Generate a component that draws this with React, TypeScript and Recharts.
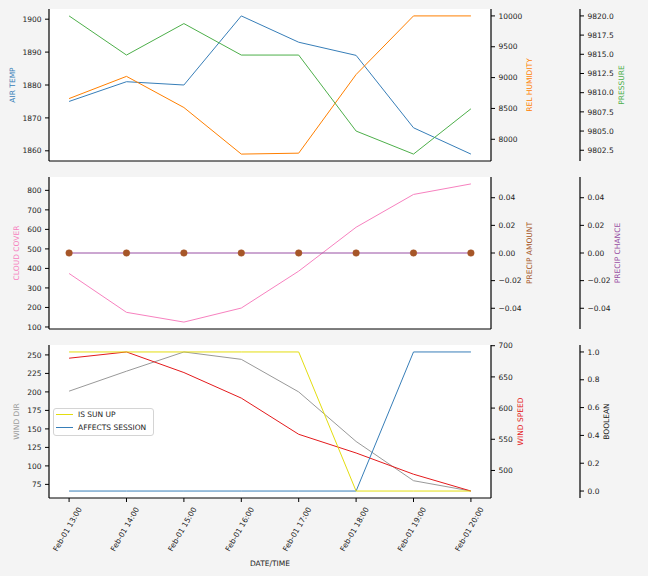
import React from "react";
import { ComposedChart, Line, XAxis, YAxis, CartesianGrid, Legend } from "recharts";

const categories = [
  "Feb-01 13:00", "Feb-01 14:00", "Feb-01 15:00", "Feb-01 16:00",
  "Feb-01 17:00", "Feb-01 18:00", "Feb-01 19:00", "Feb-01 20:00",
];
const airTemp = [1875, 1881, 1880, 1901, 1893, 1889, 1867, 1859];
const relHumidity = [8660, 9020, 8515, 7760, 7775, 9050, 10000, 10000];
const pressure = [9820.0, 9814.9, 9819.0, 9814.9, 9814.9, 9805.0, 9802.0, 9807.9];
const cloudCover = [374, 175, 125, 197, 386, 611, 779, 833];
const precipAmount = [0, 0, 0, 0, 0, 0, 0, 0];
const precipChance = [0, 0, 0, 0, 0, 0, 0, 0];
const windDir = [201, 228, 254, 244, 200, 133, 80, 66];
const windSpeed = [680, 690, 657, 616, 558, 528, 494, 467];
const isSunUp = [1, 1, 1, 1, 1, 0, 0, 0];
const affectsSession = [0, 0, 0, 0, 0, 0, 1, 1];

const airTempTicks = [1860, 1870, 1880, 1890, 1900];
const relHumidityTicks = [8000, 8500, 9000, 9500, 10000];
const pressureTicks = [9802.5, 9805, 9807.5, 9810, 9812.5, 9815, 9817.5, 9820];
const cloudTicks = [100, 200, 300, 400, 500, 600, 700, 800];
const precipTicks = [-0.04, -0.02, 0, 0.02, 0.04];
const windDirTicks = [75, 100, 125, 150, 175, 200, 225, 250];
const windSpeedTicks = [500, 550, 600, 650, 700];
const boolTicks = [0, 0.2, 0.4, 0.6, 0.8, 1.0];

const rows = categories.map((c, i) => ({
  i,
  airTemp: airTemp[i],
  relHumidity: relHumidity[i],
  pressure: pressure[i],
  cloudCover: cloudCover[i],
  precipAmount: precipAmount[i],
  precipChance: precipChance[i],
  windDir: windDir[i],
  windSpeed: windSpeed[i],
  isSunUp: isSunUp[i],
  affectsSession: affectsSession[i],
}));

const pad = (...arrs: number[][]): [number, number] => {
  const all = arrs.flat();
  const mn = Math.min(...all);
  const mx = Math.max(...all);
  if (mx === mn) return [mn - 0.055, mx + 0.055];
  const m = (mx - mn) * 0.05;
  return [mn - m, mx + m];
};

const FONT = '"DejaVu Sans", "Liberation Sans", sans-serif';
const FS = 7.5;
const TXT = "#222";
const C = {
  blue: "#377eb8",
  orange: "#ff7f00",
  green: "#4daf4a",
  pink: "#f781bf",
  brown: "#a65628",
  purple: "#984ea3",
  gray: "#999999",
  red: "#e41a1c",
  yellow: "#e3dd10",
};

const xDomain: [number, number] = [-0.35, 7.35];
const xTicks = categories.map((_, i) => i);
const tickStyle = { fontSize: FS, fill: TXT };
const minus = (s: string) => s.replace("-", "\u2212");

const vLabel = (text: string, color: string, cx: number) => (props: any) => {
  const vb = props.viewBox || {};
  const cy = vb.y + vb.height / 2;
  return (
    <text
      x={cx}
      y={cy}
      transform={`rotate(-90 ${cx} ${cy})`}
      textAnchor="middle"
      dominantBaseline="central"
      fill={color}
      fontSize={FS}
      fontFamily={FONT}
    >
      {text}
    </text>
  );
};

const RotTick = (props: any) => {
  const { x, y, payload } = props;
  return (
    <text
      transform={`translate(${x + 13},${y + 5}) rotate(-60)`}
      textAnchor="end"
      fontSize={FS}
      fill={TXT}
      fontFamily={FONT}
    >
      {categories[payload.value]}
    </text>
  );
};

const frameAxes = (bottomTicks: any, bottomHeight: number, xLabel?: any) => [
  <CartesianGrid key="g" fill="#ffffff" fillOpacity={1} horizontal={false} vertical={false} />,
  <XAxis
    key="xb"
    xAxisId={0}
    dataKey="i"
    type="number"
    domain={xDomain}
    ticks={xTicks}
    interval={0}
    allowDataOverflow
    height={bottomHeight}
    tick={bottomTicks}
    tickSize={4}
    tickMargin={2}
    stroke="#000"
    tickLine={{ stroke: "#000" }}
    axisLine={{ stroke: "#000", strokeWidth: 1.2 }}
    label={xLabel}
  />,
  <XAxis
    key="xt"
    xAxisId="top"
    orientation="top"
    dataKey="i"
    type="number"
    domain={xDomain}
    allowDataOverflow
    height={0}
    tick={false}
    tickLine={false}
    axisLine={{ stroke: "#000", strokeWidth: 1.2 }}
  />,
];

const yAx = (
  id: string,
  orientation: "left" | "right",
  width: number,
  domain: [number, number],
  ticks: number[],
  fmt: (v: number) => string,
  label: any,
  axisStrokeWidth = 1.2
) => (
  <YAxis
    key={id}
    yAxisId={id}
    orientation={orientation}
    width={width}
    type="number"
    domain={domain}
    ticks={ticks}
    interval={0}
    allowDataOverflow
    tick={tickStyle}
    tickFormatter={fmt}
    tickSize={4}
    tickMargin={3.5}
    tickLine={{ stroke: "#000" }}
    axisLine={{ stroke: "#000", strokeWidth: axisStrokeWidth }}
    label={label}
  />
);

const MARGIN = { top: 9, right: 8, bottom: 0, left: 0 };

const LegendBox = () => (
  <div
    style={{
      width: 101,
      height: 28,
      boxSizing: "border-box",
      border: "1px solid #d4d4d4",
      borderRadius: 3,
      background: "rgba(255,255,255,0.85)",
      fontFamily: FONT,
      fontSize: FS,
      color: TXT,
      paddingLeft: 2,
    }}
  >
    {[
      { name: "IS SUN UP", color: C.yellow },
      { name: "AFFECTS SESSION", color: C.blue },
    ].map((it, k) => (
      <div
        key={k}
        style={{
          display: "flex",
          alignItems: "center",
          height: 13.4,
          marginTop: k === 0 ? -1.5 : 0,
          whiteSpace: "nowrap",
        }}
      >
        <span
          style={{
            display: "inline-block",
            width: 17,
            height: 0,
            borderTop: `1px solid ${it.color}`,
            marginRight: 5,
          }}
        />
        <span>{it.name}</span>
      </div>
    ))}
  </div>
);

export default function App() {
  return (
    <div
      style={{
        position: "absolute",
        left: 0,
        top: 0,
        width: 648,
        height: 576,
        background: "#f4f4f4",
        fontFamily: FONT,
        overflow: "hidden",
      }}
    >
      {/* Panel 1 */}
      <div style={{ position: "absolute", left: 0, top: 0 }}>
        <ComposedChart width={648} height={170} data={rows} margin={MARGIN}>
          {frameAxes(false, 9)}
          {yAx("l", "left", 49, pad(airTemp), airTempTicks, (v) => String(v), vLabel("AIR TEMP", C.blue, 12.5))}
          {yAx("r1", "right", 89, pad(relHumidity), relHumidityTicks, (v) => String(v), vLabel("REL HUMIDITY", C.orange, 529.5))}
          {yAx("r2", "right", 60, pad(pressure), pressureTicks, (v) => v.toFixed(1), vLabel("PRESSURE", C.green, 621.5))}
          <Line yAxisId="l" dataKey="airTemp" stroke={C.blue} strokeWidth={1} dot={false} activeDot={false} isAnimationActive={false} />
          <Line yAxisId="r1" dataKey="relHumidity" stroke={C.orange} strokeWidth={1} dot={false} activeDot={false} isAnimationActive={false} />
          <Line yAxisId="r2" dataKey="pressure" stroke={C.green} strokeWidth={1} dot={false} activeDot={false} isAnimationActive={false} />
        </ComposedChart>
      </div>

      {/* Panel 2 */}
      <div style={{ position: "absolute", left: 0, top: 168 }}>
        <ComposedChart width={648} height={170} data={rows} margin={MARGIN}>
          {frameAxes(false, 9)}
          {yAx("l", "left", 49, pad(cloudCover), cloudTicks, (v) => String(v), vLabel("CLOUD COVER", C.pink, 16.7))}
          {yAx("r1", "right", 89, pad(precipAmount), precipTicks, (v) => minus(v.toFixed(2)), vLabel("PRECIP AMOUNT", C.brown, 529))}
          {yAx("r2", "right", 60, pad(precipChance), precipTicks, (v) => minus(v.toFixed(2)), vLabel("PRECIP CHANCE", C.purple, 617.5))}
          <Line yAxisId="l" dataKey="cloudCover" stroke={C.pink} strokeWidth={1} dot={false} activeDot={false} isAnimationActive={false} />
          <Line yAxisId="r2" dataKey="precipChance" stroke={C.purple} strokeWidth={1} dot={false} activeDot={false} isAnimationActive={false} />
          <Line
            yAxisId="r1"
            dataKey="precipAmount"
            stroke="none"
            dot={{ r: 3.3, fill: C.brown, stroke: C.brown, strokeWidth: 0.5 }}
            activeDot={false}
            isAnimationActive={false}
          />
        </ComposedChart>
      </div>

      {/* Panel 3 */}
      <div style={{ position: "absolute", left: 0, top: 336 }}>
        <ComposedChart width={648} height={240} data={rows} margin={MARGIN}>
          {frameAxes(<RotTick />, 78, (props: any) => {
            const vb = props.viewBox || {};
            return (
              <text
                x={vb.x + vb.width / 2}
                y={vb.y + 65}
                textAnchor="middle"
                dominantBaseline="central"
                fontSize={FS}
                fill={TXT}
                fontFamily={FONT}
              >
                DATE/TIME
              </text>
            );
          })}
          {yAx("l", "left", 49, pad(windDir), windDirTicks, (v) => String(v), vLabel("WIND DIR", C.gray, 16))}
          {yAx("r1", "right", 89, pad(windSpeed), windSpeedTicks, (v) => String(v), vLabel("WIND SPEED", C.red, 520))}
          {yAx("r2", "right", 60, pad(isSunUp, affectsSession), boolTicks, (v) => v.toFixed(1), vLabel("BOOLEAN", TXT, 606.7))}
          <Line yAxisId="l" dataKey="windDir" stroke={C.gray} strokeWidth={1} dot={false} activeDot={false} isAnimationActive={false} />
          <Line yAxisId="r1" dataKey="windSpeed" stroke={C.red} strokeWidth={1} dot={false} activeDot={false} isAnimationActive={false} />
          <Line yAxisId="r2" dataKey="affectsSession" name="AFFECTS SESSION" stroke={C.blue} strokeWidth={1} dot={false} activeDot={false} isAnimationActive={false} />
          <Line yAxisId="r2" dataKey="isSunUp" name="IS SUN UP" stroke={C.yellow} strokeWidth={1} dot={false} activeDot={false} isAnimationActive={false} />
          <Legend
            layout="horizontal"
            verticalAlign="middle"
            align="center"
            wrapperStyle={{ left: 53, top: 72, width: 101, height: 28 }}
            content={() => <LegendBox />}
          />
        </ComposedChart>
      </div>
    </div>
  );
}
